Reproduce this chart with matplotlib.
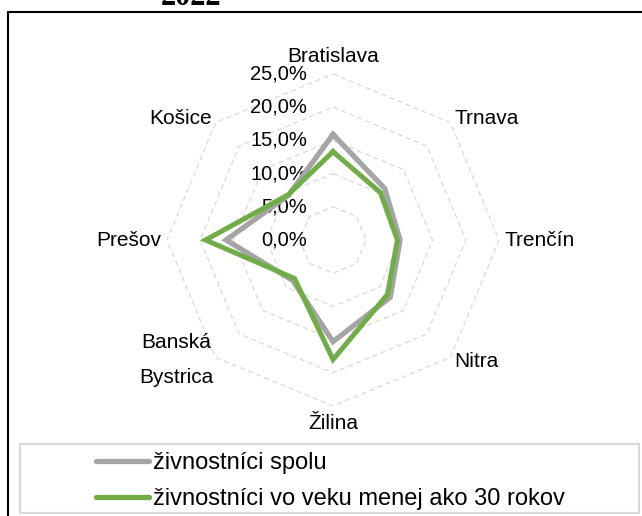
import numpy as np
import matplotlib
matplotlib.use("Agg")
import matplotlib.pyplot as plt
from matplotlib.patches import Rectangle

plt.rcParams['font.family'] = ['Liberation Sans', 'DejaVu Sans']

##### data ######
kraje = ['Bratislava', 'Trnava', 'Trenčín', 'Nitra', 'Žilina', 'Banská\nBystrica', 'Prešov', 'Košice']
spolu = [15.9, 11.0, 10.1, 12.2, 15.3, 8.6, 16.1, 9.5]
mladi = [13.3, 10.1, 9.7, 11.6, 18.0, 8.2, 19.2, 9.6]
kruhy = [0, 5, 10, 15, 20, 25]
kruhy_text = ['0,0%', '5,0%', '10,0%', '15,0%', '20,0%', '25,0%']
nazvy = ['živnostníci spolu', 'živnostníci vo veku menej ako 30 rokov']

sivá = '#a5a5a5'
zelená = '#70ad47'

W, H = 642, 516
fig = plt.figure(figsize=(W / 100, H / 100), dpi=100)

# polar os, stred (333, 240) px, polomer 166 px
cx, cy, R = 333, 240, 166
ax = fig.add_axes([(cx - R) / W, (H - cy - R) / H, 2 * R / W, 2 * R / H], projection='polar')
ax.set_theta_zero_location('N')
ax.set_theta_direction(-1)
ax.set_ylim(0, 25)
ax.grid(False)
ax.set_xticks([])
ax.set_yticks([])
ax.spines['polar'].set_visible(False)
ax.patch.set_alpha(0)

uhly = np.arange(len(kraje)) * 2 * np.pi / len(kraje)
uhly_z = np.append(uhly, uhly[0])

# siet (osemuholniky)
for k in kruhy[1:]:
    ax.plot(uhly_z, [k] * len(uhly_z), color='#d9d9d9', lw=0.9, ls=(0, (4, 3)), zorder=1)

# radialne popisy
for k, t in zip(kruhy, kruhy_text):
    ax.annotate(t, xy=(0, k), xytext=(-26, 0), textcoords='offset pixels',
                ha='right', va='center', fontsize=14.5, color='#000000', zorder=2)

# serie
l1, = ax.plot(uhly_z, spolu + spolu[:1], color=sivá, lw=3.8, solid_joinstyle='miter', zorder=3)
l2, = ax.plot(uhly_z, mladi + mladi[:1], color=zelená, lw=3.6, solid_joinstyle='miter', zorder=4)

# popisy krajov
pozicie = [(27.6, 'center'), (25.8, 'left'), (25.9, 'left'), (25.9, 'left'),
           (27.6, 'center'), (25.5, 'right'), (25.8, 'right'), (25.9, 'right')]
for u, kraj, (r, ha) in zip(uhly, kraje, pozicie):
    ax.text(u, r, kraj, ha=ha, va='center', fontsize=15, multialignment='center',
            linespacing=2.05, clip_on=False)

# legenda
fig.patches.append(Rectangle((20 / W, (H - 513) / H), (639 - 20) / W, (513 - 444) / H,
                             transform=fig.transFigure, fill=False, edgecolor='#d9d9d9', lw=1.5))
leg = fig.legend([l1, l2], nazvy, loc='upper left', bbox_to_anchor=(96 / W, (H - 452) / H),
                 frameon=False, fontsize=17, handlelength=2.25, handletextpad=0.15,
                 borderpad=0, borderaxespad=0, labelspacing=0.6)
for h in leg.get_lines():
    h.set_solid_capstyle('round')
    h.set_linewidth(3.8)

# ramik a nadpis
fig.patches.append(Rectangle((8 / W, -0.05), 1.0, (H - 12) / H + 0.05,
                             transform=fig.transFigure, fill=False, edgecolor='black', lw=1.5))
fig.text(191 / W, (H - 5) / H, '2022', ha='center', va='baseline', fontsize=22,
         fontweight='bold', family=['Liberation Serif', 'DejaVu Serif'])

fig.savefig('out.png', dpi=100)
